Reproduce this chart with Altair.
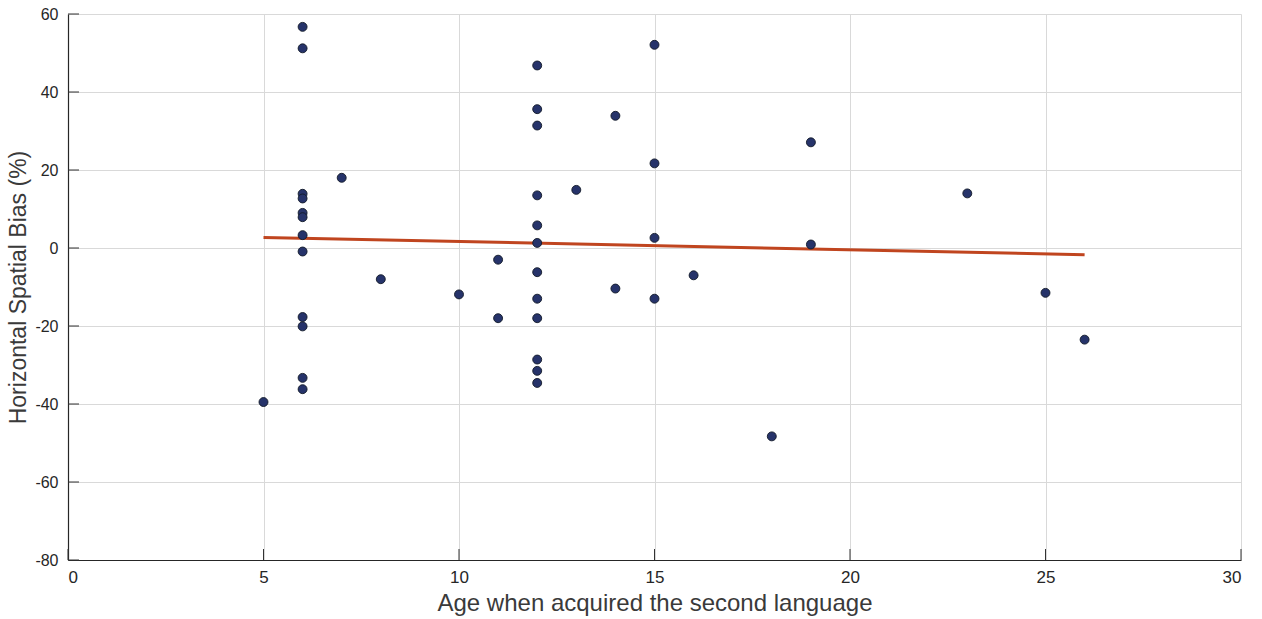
import altair as alt
import pandas as pd

# Age at which the second language was acquired, and the measured bias (%)
ages = [5,
        6, 6, 6, 6, 6, 6, 6, 6, 6, 6, 6, 6,
        7, 8, 10, 11, 11,
        12, 12, 12, 12, 12, 12, 12, 12, 12, 12, 12, 12,
        13, 14, 14, 15, 15, 15, 15, 16, 18, 19, 19, 23, 25, 26]
bias = [-39.5,
        56.7, 51.2, 13.9, 12.7, 9.0, 7.9, 3.3, -0.9, -17.7, -20.1, -33.3, -36.2,
        18.0, -8.0, -11.9, -3.0, -18.0,
        46.8, 35.6, 31.4, 13.5, 5.8, 1.3, -6.2, -13.0, -18.0, -28.6, -31.5, -34.6,
        14.9, 33.9, -10.4, 52.1, 21.7, 2.6, -13.0, -7.0, -48.3, 27.1, 0.9, 14.0, -11.5, -23.5]

# linear fit endpoints
fit_age = [5, 26]
fit_bias = [2.7, -1.7]

x_ticks = [0, 5, 10, 15, 20, 25, 30]
y_ticks = [-80, -60, -40, -20, 0, 20, 40, 60]

df = pd.DataFrame({"age": ages, "bias": bias})
fit_df = pd.DataFrame({"age": fit_age, "bias": fit_bias})

FONT = "Liberation Sans"
NARROW = "Liberation Sans Narrow, Liberation Sans"
W, H = 1173, 546

xs = alt.Scale(domain=[0, 30], nice=False, zero=False)
ys = alt.Scale(domain=[-80, 60], nice=False, zero=False)

points = alt.Chart(df).mark_point(
    filled=True, size=80, color="#26336a", stroke="#111827", strokeWidth=0.9, opacity=1
).encode(
    x=alt.X("age:Q", scale=xs,
            axis=alt.Axis(values=x_ticks, title="Age when acquired the second language",
                          grid=True, ticks=False, labelPadding=9, titlePadding=6,
                          labelFont=NARROW, labelFontSize=17, titleFontSize=24,
                          labelExpr="toString(datum.value)")),
    y=alt.Y("bias:Q", scale=ys,
            axis=alt.Axis(values=y_ticks, title="Horizontal Spatial Bias (%)",
                          grid=True, ticks=False, labelPadding=10, titlePadding=4,
                          labelFontSize=16, titleFontSize=23,
                          labelExpr="toString(datum.value)")),
)

fit = alt.Chart(fit_df).mark_line(color="#c0451f", strokeWidth=3).encode(
    x=alt.X("age:Q", scale=xs), y=alt.Y("bias:Q", scale=ys)
)

# inward tick marks along both axes
ytick_df = pd.DataFrame({"v": y_ticks})
xtick_df = pd.DataFrame({"v": x_ticks})
ytick_marks = alt.Chart(ytick_df).mark_rule(color="#333333", strokeWidth=1).encode(
    y=alt.Y("v:Q", scale=ys), x=alt.value(0), x2=alt.value(11)
)
xtick_marks = alt.Chart(xtick_df).mark_rule(color="#333333", strokeWidth=1).encode(
    x=alt.X("v:Q", scale=xs), y=alt.value(H), y2=alt.value(H - 11)
)

chart = alt.layer(fit, points, ytick_marks, xtick_marks).properties(
    width=W, height=H,
    background="white",
    autosize=alt.AutoSizeParams(type="none"),
    padding={"left": 68, "top": 14, "right": 21, "bottom": 59},
).configure_view(stroke=None).configure_axis(
    labelFont=FONT, titleFont=FONT,
    labelColor="#262626", titleColor="#3a3a3a", titleFontWeight="normal",
    gridColor="#d9d9d9", gridWidth=1, domainColor="#262626", domainWidth=1.2,
)

chart.save("out.html", embed_options={"renderer": "svg", "actions": False})
